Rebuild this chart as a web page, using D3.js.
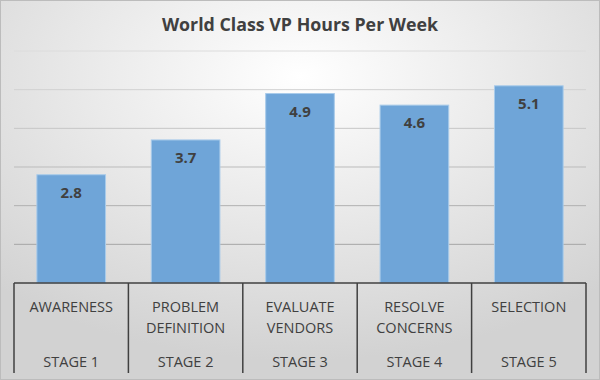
<!DOCTYPE html>
<html lang="en">
<head>
    <meta charset="UTF-8">
    <title>World Class VP Hours Per Week</title>
    <script src="https://cdn.jsdelivr.net/npm/d3@7"></script>
    <style>
        body {margin: 0; padding: 0;}
        svg text {font-family: "Open Sans", sans-serif;}
    </style>
</head>
<body>
    <div id="graf"></div>

    <script>
        // podatki
        let categories = ["AWARENESS", "PROBLEM DEFINITION", "EVALUATE VENDORS", "RESOLVE CONCERNS", "SELECTION"];
        let labelLines = [["AWARENESS"], ["PROBLEM", "DEFINITION"], ["EVALUATE", "VENDORS"], ["RESOLVE", "CONCERNS"], ["SELECTION"]];
        let stages = ["STAGE 1", "STAGE 2", "STAGE 3", "STAGE 4", "STAGE 5"];
        let hours = [2.8, 3.7, 4.9, 4.6, 5.1];
        let yTicks = [0, 1, 2, 3, 4, 5, 6];

        let width = 600, height = 380;
        let margin = {top: 51, right: 14, bottom: 97, left: 14};
        let innerW = width - margin.left - margin.right,
            innerH = height - margin.top - margin.bottom;

        let svg = d3.select("#graf")
            .append("svg")
            .attr("width", width)
            .attr("height", height);

        let defs = svg.append("defs");
        let bg = defs.append("radialGradient")
            .attr("id", "ozadje")
            .attr("cx", "50%").attr("cy", "20%").attr("r", "75%");
        bg.append("stop").attr("offset", "0%").attr("stop-color", "#ffffff");
        bg.append("stop").attr("offset", "100%").attr("stop-color", "#d2d2d2");

        svg.append("rect")
            .attr("x", 0.5).attr("y", 0.5)
            .attr("width", width - 1).attr("height", height - 1)
            .attr("fill", "url(#ozadje)")
            .attr("stroke", "#bcbcbc");

        svg.append("text")
            .attr("x", width / 2)
            .attr("y", 31)
            .attr("text-anchor", "middle")
            .attr("font-size", "17.8px")
            .attr("font-weight", "bold")
            .attr("fill", "#404040")
            .text("World Class VP Hours Per Week");

        let g = svg.append("g")
            .attr("transform", "translate(" + margin.left + "," + margin.top + ")");

        let x = d3.scaleBand()
            .domain(categories)
            .range([0, innerW])
            .paddingInner(0.4)
            .paddingOuter(0.2);

        let y = d3.scaleLinear()
            .domain([0, 6])
            .range([innerH, 0]);

        // mreža
        let gridShade = d3.scaleLinear().domain([0, 6]).range(["#9a9a9a", "#dcdcdc"]);
        g.selectAll(".grid")
            .data(yTicks.slice(1))
            .enter().append("line")
            .attr("x1", 0).attr("x2", innerW)
            .attr("y1", d => y(d)).attr("y2", d => y(d))
            .attr("stroke", d => gridShade(d))
            .attr("stroke-width", 1);

        // stolpci
        g.selectAll(".bar")
            .data(hours)
            .enter().append("rect")
            .attr("x", (d, i) => x(categories[i]))
            .attr("y", d => y(d))
            .attr("width", x.bandwidth())
            .attr("height", d => innerH - y(d))
            .attr("fill", "#6fa5d8")
            .attr("stroke", "#a9cbea")
            .attr("stroke-width", 1);

        g.selectAll(".val")
            .data(hours)
            .enter().append("text")
            .attr("x", (d, i) => x(categories[i]) + x.bandwidth() / 2)
            .attr("y", d => y(d) + 23)
            .attr("text-anchor", "middle")
            .attr("font-size", "15px")
            .attr("font-weight", "bold")
            .attr("fill", "#404040")
            .text(d => d.toFixed(1));

        // os x s škatlami
        let step = innerW / categories.length;
        let axis = g.append("g").attr("transform", "translate(0," + innerH + ")");
        axis.append("line")
            .attr("x1", 0).attr("x2", innerW)
            .attr("y1", 0).attr("y2", 0)
            .attr("stroke", "#404040").attr("stroke-width", 1.5);
        axis.selectAll(".sep")
            .data(d3.range(categories.length + 1))
            .enter().append("line")
            .attr("x1", i => i * step).attr("x2", i => i * step)
            .attr("y1", 0).attr("y2", 90)
            .attr("stroke", "#404040").attr("stroke-width", 1.5);

        let cat = axis.selectAll(".cat")
            .data(categories)
            .enter().append("g")
            .attr("transform", d => "translate(" + (x(d) + x.bandwidth() / 2) + ",0)");

        cat.each(function(d, i) {
            let el = d3.select(this);
            labelLines[i].forEach(function(line, j) {
                el.append("text")
                    .attr("y", 29 + j * 21)
                    .attr("text-anchor", "middle")
                    .attr("font-size", "14.5px")
                    .attr("fill", "#404040")
                    .text(line);
            });
            el.append("text")
                .attr("y", 84)
                .attr("text-anchor", "middle")
                .attr("font-size", "14.5px")
                .attr("fill", "#404040")
                .text(stages[i]);
        });
    </script>

</body>
</html>
